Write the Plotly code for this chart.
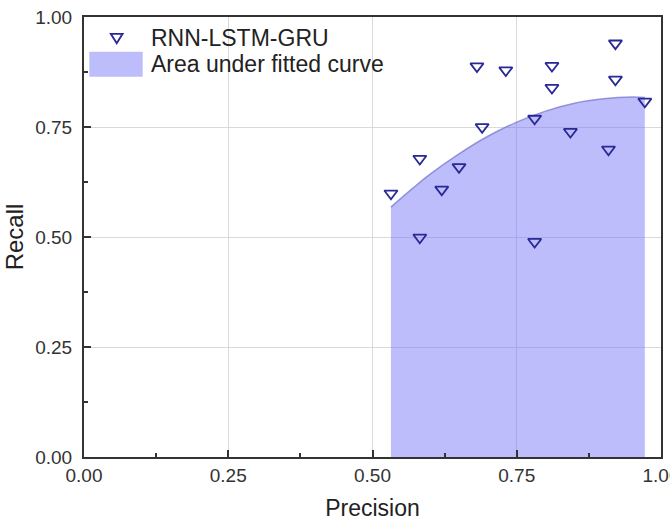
import plotly.graph_objects as go

# ---- data ----
precision = [0.921, 0.681, 0.731, 0.811, 0.921, 0.811, 0.972, 0.781, 0.690,
             0.843, 0.909, 0.582, 0.650, 0.620, 0.532, 0.582, 0.781]
recall = [0.940, 0.888, 0.879, 0.889, 0.858, 0.839, 0.808, 0.769, 0.750,
          0.739, 0.699, 0.678, 0.659, 0.608, 0.599, 0.499, 0.489]

# fitted curve
fit_precision = [0.532, 0.57, 0.60, 0.65, 0.70, 0.75, 0.80, 0.85, 0.90, 0.95, 0.972]
fit_recall = [0.568, 0.611, 0.643, 0.689, 0.729, 0.761, 0.786, 0.804, 0.814, 0.818, 0.817]

tick_vals = [0.0, 0.25, 0.5, 0.75, 1.0]
tick_text = ["0.00", "0.25", "0.50", "0.75", "1.00"]
series_name = "RNN-LSTM-GRU"
area_name = "Area under fitted curve"

# ---- style ----
FONT = "Liberation Sans, Arial, sans-serif"
W, H = 670, 521
ML, MR, MT, MB = 84, 9, 17, 64
PW, PH = W - ML - MR, H - MT - MB
FILL = "rgba(118,118,246,0.48)"
EDGE = "rgba(120,120,205,0.75)"
MARK = "rgb(40,40,150)"


def px(x):
    return (x - ML) / PW


def py(y):
    return (H - MB - y) / PH


fig = go.Figure()
fig.add_trace(go.Scatter(
    x=fit_precision, y=fit_recall, mode="lines", line=dict(color=EDGE, width=1.5, shape="spline"),
    fill="tozeroy", fillcolor=FILL, name=area_name, showlegend=False, hoverinfo="skip"))
fig.add_trace(go.Scatter(
    x=precision, y=recall, mode="markers", name=series_name, showlegend=False,
    marker=dict(symbol="triangle-down-open", size=11.5, color=MARK, line=dict(width=1.8, color=MARK))))

axis_common = dict(
    range=[0, 1], tickvals=tick_vals, ticktext=tick_text, ticks="inside", ticklen=7, tickwidth=2,
    tickcolor="#333", showline=True, linecolor="#333", linewidth=2, mirror=True,
    showgrid=True, gridcolor="#d9d9d9", gridwidth=1, zeroline=False,
    tickfont=dict(family=FONT, size=19, color="#333"), ticklabeloverflow="allow",
    minor=dict(dtick=0.125, tick0=0, ticks="inside", ticklen=4, tickwidth=2, tickcolor="#333", showgrid=False),
)

fig.update_xaxes(**axis_common, title=dict(text="Precision", font=dict(family=FONT, size=23, color="#222"), standoff=16))
fig.update_yaxes(**axis_common, ticklabelstandoff=6,
                 title=dict(text="Recall", font=dict(family=FONT, size=24, color="#222"), standoff=5))

# custom legend (no frame)
tri_cx, tri_top, tri_bot, tri_hw = 116.7, 33.8, 43.3, 5.9
fig.add_shape(type="path", xref="paper", yref="paper",
              path=f"M {px(tri_cx - tri_hw)} {py(tri_top)} L {px(tri_cx + tri_hw)} {py(tri_top)} L {px(tri_cx)} {py(tri_bot)} Z",
              line=dict(color=MARK, width=1.8), fillcolor="rgba(0,0,0,0)")
fig.add_shape(type="rect", xref="paper", yref="paper",
              x0=px(89.3), x1=px(142.7), y0=py(76.7), y1=py(51.7),
              fillcolor=FILL, line=dict(width=0))
fig.add_annotation(xref="paper", yref="paper", x=px(149), y=py(37.5), text=series_name,
                   showarrow=False, xanchor="left", yanchor="middle",
                   font=dict(family=FONT, size=23, color="#222"))
fig.add_annotation(xref="paper", yref="paper", x=px(149), y=py(63.5), text=area_name,
                   showarrow=False, xanchor="left", yanchor="middle",
                   font=dict(family=FONT, size=23, color="#222"))

fig.update_layout(
    width=W, height=H, margin=dict(l=ML, r=MR, t=MT, b=MB, autoexpand=False),
    paper_bgcolor="white", plot_bgcolor="white", showlegend=False,
    font=dict(family=FONT),
)

fig.write_html("out.html")
